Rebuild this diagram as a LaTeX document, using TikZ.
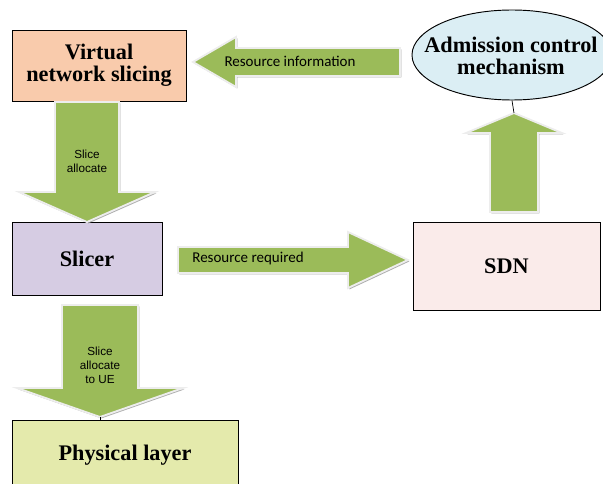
\documentclass[tikz,border=0pt]{standalone}
\usepackage{fontspec}
\setmainfont{Liberation Serif}
\newfontfamily\calibrifont{Carlito}
\newfontfamily\arialfont{Liberation Sans}
\usetikzlibrary{shapes.geometric,shadows,calc}
\definecolor{vnspeach}{RGB}{249,203,172}
\definecolor{slicerlav}{RGB}{214,204,227}
\definecolor{sdnpink}{RGB}{250,235,234}
\definecolor{phygreen}{RGB}{228,234,172}
\definecolor{acmblue}{RGB}{219,238,244}
\definecolor{arrowgreen}{RGB}{155,187,89}

\begin{document}
\begin{tikzpicture}[x=0.03cm,y=-0.03cm,line join=miter,
  box/.style={draw=black,line width=0.8pt,inner sep=0pt,align=center,
    font=\fontsize{19}{18.5}\selectfont\bfseries},
  blockarrow/.style={fill=arrowgreen,draw=black!7,line width=1.6pt,
    drop shadow={shadow xshift=1.2pt,shadow yshift=-1.2pt,fill=black!40,opacity=.8}},
  arrowlabel/.style={inner sep=0pt,align=center}]
 \useasboundingbox (0,0) rectangle (603,484);
 \clip (0,0) rectangle (603,484);

 % boxes
 \node[box,fill=vnspeach,minimum width=5.22cm,minimum height=2.13cm]
  (vns) at (99,65.5) {Virtual\\network slicing};
 \node[box,fill=slicerlav,minimum width=4.5cm,minimum height=2.19cm]
  (slicer) at (87,258.5) {Slicer};
 \node[box,fill=sdnpink,minimum width=5.61cm,minimum height=2.64cm]
  (sdn) at (506.5,266) {SDN};
 \node[box,fill=phygreen,minimum width=6.78cm,minimum height=2.1cm]
  (phy) at (125,455) {Physical layer};
 \node[box,ellipse,fill=acmblue,minimum width=6cm,minimum height=2.7cm]
  (acm) at (512,55) {};
 \node[box,draw=none] (acmtext) at (511,56) {Admission control\\mechanism};

 % block arrows
 \path[blockarrow] (400,48) -- (236,48) -- (236,37) -- (193,62)
  -- (236,87) -- (236,76) -- (400,76) -- cycle;
 \path[blockarrow] (55,102) -- (119,102) -- (119,192) -- (155,192)
  -- (87,222) -- (19,192) -- (55,192) -- cycle;
 \path[blockarrow] (178,247) -- (348,247) -- (348,232) -- (408,260)
  -- (348,288) -- (348,273) -- (178,273) -- cycle;
 \path[blockarrow] (490,212) -- (490,133) -- (466,133) -- (514,113)
  -- (562,133) -- (538,133) -- (538,212) -- cycle;
 \path[blockarrow] (62,305) -- (138,305) -- (138,388) -- (183,388)
  -- (100,417) -- (17,388) -- (62,388) -- cycle;

 \coordinate (tipup) at (514,113);
 \coordinate (tipue) at (100,417);
 \draw[line width=.6pt] (acm.south) -- (tipup);
 \draw[line width=.6pt] (tipue) -- (tipue |- phy.north);

 % arrow labels
 \node[arrowlabel,font=\calibrifont\fontsize{12.8}{14}\selectfont]
  (resinfo) at (290,61) {Resource information};
 \node[arrowlabel,font=\calibrifont\fontsize{12.8}{14}\selectfont]
  (resreq) at (248,259) {Resource required};
 \node[arrowlabel,font=\arialfont\fontsize{10}{12}\selectfont]
  (alloc) at (87,161) {Slice\\allocate};
 \node[arrowlabel,font=\arialfont\fontsize{10}{12}\selectfont]
  (allocue) at (100,365) {Slice\\allocate\\to UE};
\end{tikzpicture}
\end{document}
